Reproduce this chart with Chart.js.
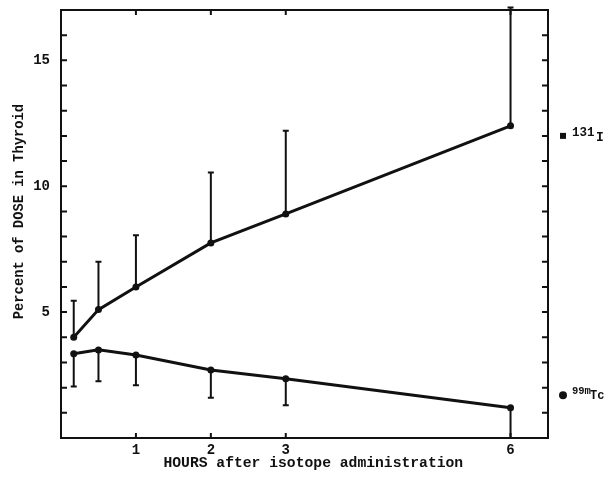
<!DOCTYPE html>
<html>
<head>
<meta charset="utf-8">
<script src="https://cdn.jsdelivr.net/npm/chart.js@4.4.1/dist/chart.umd.min.js"></script>
<style>
  html, body { margin: 0; padding: 0; background: #fff; }
  #wrap { width: 613px; height: 481px; }
</style>
</head>
<body>
<div id="wrap"><canvas id="c" width="613" height="481"></canvas></div>
<script>
// ── Data ───────────────────────────────────────────────────
const HOURS            = [0.17, 0.5, 1, 2, 3, 6];
const I131             = [4.0, 5.1, 6.0, 7.75, 8.9, 12.4];
const I131_ERR_TOP     = [5.45, 7.0, 8.05, 10.55, 12.2, 17.1];
const TC99M            = [3.35, 3.5, 3.3, 2.7, 2.35, 1.2];
const TC99M_ERR_BOTTOM = [2.05, 2.25, 2.1, 1.6, 1.3, 0];
const X_TICKS          = [1, 2, 3, 6];
const Y_LABELS         = [5, 10, 15];

// ── Helpers ────────────────────────────────────────────────
const FONT   = '"Liberation Mono", "DejaVu Sans Mono", monospace';
const INK    = '#111';
const toXY   = (xs, ys) => xs.map((x, i) => ({ x, y: ys[i] }));

// ── Error bars (one-sided) ─────────────────────────────────
const errorBars = {
    id: 'errorBars',
    beforeDatasetsDraw(chart) {
        const { ctx, scales: { y } } = chart;
        ctx.save();
        ctx.strokeStyle = INK;
        ctx.lineWidth   = 2;
        chart.data.datasets.forEach((ds, di) => {
            const meta = chart.getDatasetMeta(di);
            meta.data.forEach((pt, i) => {
                const yEnd = y.getPixelForValue(ds.errTo[i]);
                ctx.beginPath();
                ctx.moveTo(pt.x, pt.y);
                ctx.lineTo(pt.x, yEnd);
                ctx.moveTo(pt.x - 3, yEnd);
                ctx.lineTo(pt.x + 3, yEnd);
                ctx.stroke();
            });
        });
        ctx.restore();
    },
};

// ── Box frame with inward ticks ────────────────────────────
const frame = {
    id: 'frame',
    afterDraw(chart) {
        const { ctx, chartArea: a, scales: { x, y } } = chart;
        ctx.save();
        ctx.strokeStyle = INK;
        ctx.lineWidth   = 2;
        ctx.strokeRect(a.left, a.top, a.right - a.left, a.bottom - a.top);

        ctx.beginPath();
        for (let v = 1; v < y.max; v++) {
            const py = y.getPixelForValue(v);
            ctx.moveTo(a.left, py);  ctx.lineTo(a.left + 6, py);
            ctx.moveTo(a.right, py); ctx.lineTo(a.right - 6, py);
        }
        X_TICKS.forEach(v => {
            const px = x.getPixelForValue(v);
            ctx.moveTo(px, a.bottom); ctx.lineTo(px, a.bottom - 5);
            ctx.moveTo(px, a.top);    ctx.lineTo(px, a.top + 5);
        });
        ctx.stroke();
        ctx.restore();
    },
};

// ── Isotope labels on the right ────────────────────────────
const isoLabels = {
    id: 'isoLabels',
    afterDraw(chart) {
        const { ctx, chartArea: a, scales: { y } } = chart;
        const dx = a.right + 15;
        ctx.save();
        ctx.fillStyle    = INK;
        ctx.textBaseline = 'middle';
        ctx.textAlign    = 'left';

        // 131I
        let py = y.getPixelForValue(12.0);
        ctx.fillRect(dx - 3, py - 3, 6, 6);
        ctx.font = `bold 12.5px ${FONT}`;
        ctx.fillText('131', dx + 9, py - 3);
        ctx.font = `bold 13px ${FONT}`;
        ctx.fillText('I', dx + 33, py + 2);

        // 99mTc
        py = y.getPixelForValue(1.7);
        ctx.beginPath();
        ctx.arc(dx, py, 4, 0, Math.PI * 2);
        ctx.fill();
        ctx.font = `bold 10.5px ${FONT}`;
        ctx.fillText('99m', dx + 9, py - 4);
        ctx.font = `bold 12px ${FONT}`;
        ctx.fillText('Tc', dx + 27, py + 1);
        ctx.restore();
    },
};

// ── Chart ──────────────────────────────────────────────────
const lineStyle = {
    borderColor:          INK,
    borderWidth:          3,
    pointRadius:          3.5,
    pointBackgroundColor: INK,
    pointBorderWidth:     0,
    tension:              0,
};

new Chart(document.getElementById('c').getContext('2d'), {
    type: 'line',
    data: {
        datasets: [
            { label: '131I',  data: toXY(HOURS, I131),  errTo: I131_ERR_TOP,     ...lineStyle },
            { label: '99mTc', data: toXY(HOURS, TC99M), errTo: TC99M_ERR_BOTTOM, ...lineStyle },
        ],
    },
    options: {
        responsive: false,
        animation:  false,
        layout:     { padding: { top: 10, right: 65, left: 0, bottom: 0 } },
        plugins:    { legend: { display: false }, tooltip: { enabled: false } },
        scales: {
            x: {
                type: 'linear', min: 0, max: 6.5,
                afterFit: s => { s.height = 43; s.paddingLeft = 0; s.paddingRight = 0; },
                afterBuildTicks: s => { s.ticks = X_TICKS.map(v => ({ value: v })); },
                grid:   { display: false, drawTicks: false },
                border: { display: false },
                ticks:  { color: INK, padding: 4, font: { family: FONT, size: 14, weight: 'bold' } },
                title:  {
                    display: true, text: '  HOURS after isotope administration', color: INK,
                    padding: { top: 0, bottom: 9 },
                    font: { family: FONT, size: 14.7, weight: 'bold' },
                },
            },
            y: {
                type: 'linear', min: 0, max: 17,
                afterFit: s => { s.width = 61; s.paddingTop = 0; s.paddingBottom = 0; },
                grid:   { display: false, drawTicks: false },
                border: { display: false },
                ticks:  {
                    stepSize: 1, color: INK, padding: 11,
                    font: { family: FONT, size: 14, weight: 'bold' },
                    callback: v => (Y_LABELS.includes(v) ? String(v) : ''),
                },
                title: {
                    display: true, text: '   Percent of DOSE in Thyroid', color: INK,
                    padding: { top: 11, bottom: 0 },
                    font: { family: FONT, size: 13.8, weight: 'bold' },
                },
            },
        },
    },
    plugins: [errorBars, frame, isoLabels],
});
</script>
</body>
</html>
